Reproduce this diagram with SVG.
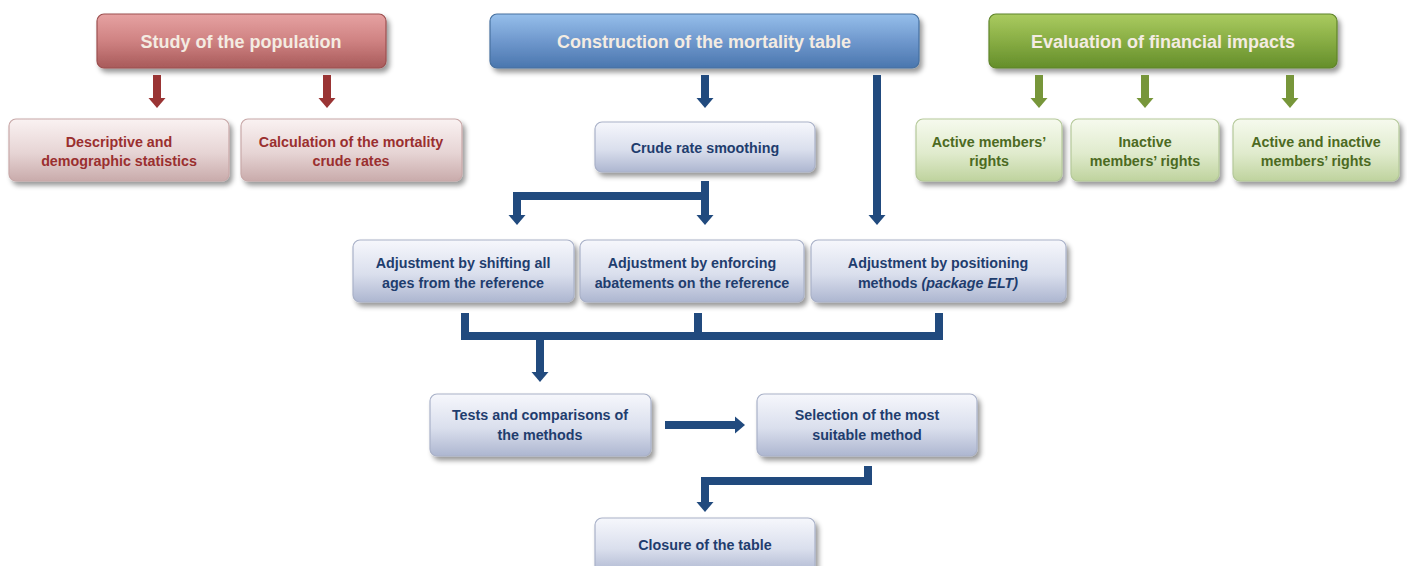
<svg xmlns="http://www.w3.org/2000/svg" width="1407" height="566" viewBox="0 0 1407 566">
<defs>
<linearGradient id="gRedH" x1="0" y1="0" x2="0" y2="1"><stop offset="0" stop-color="#e6a2a2"/><stop offset="0.5" stop-color="#cf8282"/><stop offset="1" stop-color="#a85a5a"/></linearGradient>
<linearGradient id="gBlueH" x1="0" y1="0" x2="0" y2="1"><stop offset="0" stop-color="#96bfeb"/><stop offset="0.5" stop-color="#6f98cd"/><stop offset="1" stop-color="#4a76ae"/></linearGradient>
<linearGradient id="gGreenH" x1="0" y1="0" x2="0" y2="1"><stop offset="0" stop-color="#aacb60"/><stop offset="0.5" stop-color="#88ad44"/><stop offset="1" stop-color="#648e2a"/></linearGradient>
<linearGradient id="gRedS" x1="0" y1="0" x2="0" y2="1"><stop offset="0" stop-color="#faf2f2"/><stop offset="0.55" stop-color="#e6d4d4"/><stop offset="1" stop-color="#c9abab"/></linearGradient>
<linearGradient id="gBlueS" x1="0" y1="0" x2="0" y2="1"><stop offset="0" stop-color="#f6f7fc"/><stop offset="0.55" stop-color="#dadfed"/><stop offset="1" stop-color="#adb6d0"/></linearGradient>
<linearGradient id="gGreenS" x1="0" y1="0" x2="0" y2="1"><stop offset="0" stop-color="#f6faee"/><stop offset="0.55" stop-color="#e0ebcd"/><stop offset="1" stop-color="#bfd39e"/></linearGradient>
<filter id="sh" x="-10%" y="-20%" width="125%" height="160%"><feDropShadow dx="3" dy="4" stdDeviation="2.5" flood-color="#000" flood-opacity="0.4"/></filter>
<marker id="aB" markerUnits="userSpaceOnUse" markerWidth="18" markerHeight="18" viewBox="0 -9 11 18" refX="0" refY="0" orient="auto"><path d="M0,-8.5 L10,0 L0,8.5 z" fill="#214a7e"/></marker>
<marker id="aR" markerUnits="userSpaceOnUse" markerWidth="18" markerHeight="18" viewBox="0 -9 11 18" refX="0" refY="0" orient="auto"><path d="M0,-8.5 L10,0 L0,8.5 z" fill="#9a3434"/></marker>
<marker id="aG" markerUnits="userSpaceOnUse" markerWidth="18" markerHeight="18" viewBox="0 -9 11 18" refX="0" refY="0" orient="auto"><path d="M0,-8.5 L10,0 L0,8.5 z" fill="#77963a"/></marker>
</defs>
<style>
.hd{filter:url(#sh);stroke-width:1.2}
.sb{filter:url(#sh);stroke-width:1.2}
.ht{font-family:"Liberation Sans",Arial,sans-serif;font-weight:bold;font-size:18px;fill:#f4ece2;text-anchor:middle}
.t{font-family:"Liberation Sans",Arial,sans-serif;font-weight:bold;font-size:14.3px;text-anchor:middle}
.tr{fill:#9a2f2f}.tb{fill:#1f3d6e}.tg{fill:#4c6a22}
.cb{fill:none;stroke:#214a7e;stroke-width:8;stroke-linejoin:miter}
.cr{fill:none;stroke:#9a3434;stroke-width:8}
.cg{fill:none;stroke:#77963a;stroke-width:8}
</style>
<rect width="1407" height="566" fill="#ffffff"/>

<g id="study">
<rect class="hd" x="97" y="14" width="289" height="54" rx="7" fill="url(#gRedH)" stroke="#9c5050"/>
<text class="ht" x="241" y="48">Study of the population</text>
</g>
<g id="construction">
<rect class="hd" x="490" y="14" width="429" height="54" rx="7" fill="url(#gBlueH)" stroke="#46709f"/>
<text class="ht" x="704" y="48">Construction of the mortality table</text>
</g>
<g id="evaluation">
<rect class="hd" x="989" y="14" width="348" height="54" rx="7" fill="url(#gGreenH)" stroke="#5f842a"/>
<text class="ht" x="1163" y="48">Evaluation of financial impacts</text>
</g>

<g id="descriptive">
<rect class="sb" x="9" y="119" width="220" height="62" rx="7" fill="url(#gRedS)" stroke="#c8a8a8"/>
<text class="t tr" x="119" y="147">Descriptive and</text>
<text class="t tr" x="119" y="166">demographic statistics</text>
</g>
<g id="calculation">
<rect class="sb" x="241" y="119" width="221" height="62" rx="7" fill="url(#gRedS)" stroke="#c8a8a8"/>
<text class="t tr" x="351" y="147">Calculation of the mortality</text>
<text class="t tr" x="351" y="166">crude rates</text>
</g>

<g id="smoothing">
<rect class="sb" x="595" y="122" width="220" height="50" rx="7" fill="url(#gBlueS)" stroke="#a9b1c8"/>
<text class="t tb" x="705" y="153">Crude rate smoothing</text>
</g>

<g id="active">
<rect class="sb" x="916" y="119" width="146" height="62" rx="7" fill="url(#gGreenS)" stroke="#b5c99a"/>
<text class="t tg" x="989" y="147">Active members’</text>
<text class="t tg" x="989" y="166">rights</text>
</g>
<g id="inactive">
<rect class="sb" x="1071" y="119" width="148" height="62" rx="7" fill="url(#gGreenS)" stroke="#b5c99a"/>
<text class="t tg" x="1145" y="147">Inactive</text>
<text class="t tg" x="1145" y="166">members’ rights</text>
</g>
<g id="activeinactive">
<rect class="sb" x="1233" y="119" width="166" height="62" rx="7" fill="url(#gGreenS)" stroke="#b5c99a"/>
<text class="t tg" x="1316" y="147">Active and inactive</text>
<text class="t tg" x="1316" y="166">members’ rights</text>
</g>

<g id="shifting">
<rect class="sb" x="353" y="240" width="221" height="62" rx="7" fill="url(#gBlueS)" stroke="#a9b1c8"/>
<text class="t tb" x="463" y="268">Adjustment by shifting all</text>
<text class="t tb" x="463" y="288">ages from the reference</text>
</g>
<g id="abatements">
<rect class="sb" x="580" y="240" width="224" height="62" rx="7" fill="url(#gBlueS)" stroke="#a9b1c8"/>
<text class="t tb" x="692" y="268">Adjustment by enforcing</text>
<text class="t tb" x="692" y="288">abatements on the reference</text>
</g>
<g id="positioning">
<rect class="sb" x="811" y="240" width="255" height="62" rx="7" fill="url(#gBlueS)" stroke="#a9b1c8"/>
<text class="t tb" x="938" y="268">Adjustment by positioning</text>
<text class="t tb" x="938" y="288">methods <tspan font-style="italic">(package ELT)</tspan></text>
</g>

<g id="tests">
<rect class="sb" x="430" y="394" width="221" height="62" rx="7" fill="url(#gBlueS)" stroke="#a9b1c8"/>
<text class="t tb" x="540" y="420">Tests and comparisons of</text>
<text class="t tb" x="540" y="440">the methods</text>
</g>
<g id="selection">
<rect class="sb" x="757" y="394" width="220" height="62" rx="7" fill="url(#gBlueS)" stroke="#a9b1c8"/>
<text class="t tb" x="867" y="420">Selection of the most</text>
<text class="t tb" x="867" y="440">suitable method</text>
</g>
<g id="closure">
<rect class="sb" x="595" y="518" width="220" height="56" rx="7" fill="url(#gBlueS)" stroke="#a9b1c8"/>
<text class="t tb" x="705" y="550">Closure of the table</text>
</g>

<g id="connectors">
<path class="cr" d="M157,75 V98" marker-end="url(#aR)"/>
<path class="cr" d="M327,75 V98" marker-end="url(#aR)"/>
<path class="cg" d="M1039,75 V98" marker-end="url(#aG)"/>
<path class="cg" d="M1145,75 V98" marker-end="url(#aG)"/>
<path class="cg" d="M1290,75 V98" marker-end="url(#aG)"/>
<path class="cb" d="M705,75 V98" marker-end="url(#aB)"/>
<path class="cb" d="M877,75 V215" marker-end="url(#aB)"/>
<path class="cb" d="M705,181 V215" marker-end="url(#aB)"/>
<path class="cb" d="M709,196 H517 V215" marker-end="url(#aB)"/>
<path class="cb" d="M465,313 V336 H939 V313"/>
<path class="cb" d="M698,313 V336"/>
<path class="cb" d="M540,336 V372" marker-end="url(#aB)"/>
<path class="cb" d="M665,425 H735" marker-end="url(#aB)"/>
<path class="cb" d="M868,466 V481 H705 V502" marker-end="url(#aB)"/>
</g>
</svg>
